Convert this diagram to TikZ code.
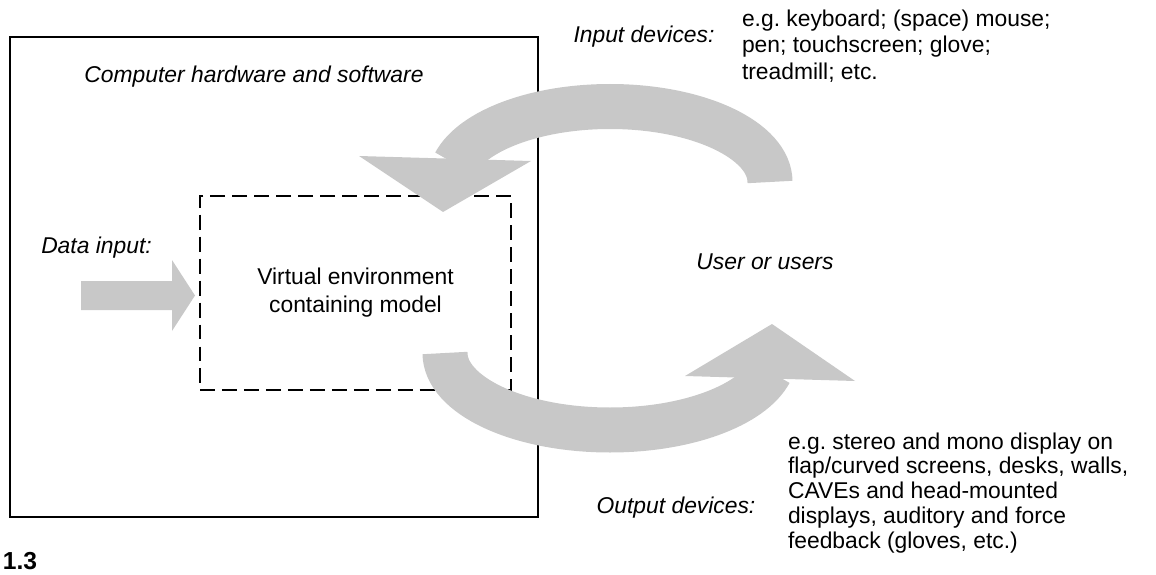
\documentclass[tikz,border=0pt]{standalone}
\usepackage{fontspec}
\setmainfont{Liberation Sans}
\usetikzlibrary{calc}
\definecolor{arrowgray}{RGB}{200,200,200}
\frenchspacing

\begin{document}
\begin{tikzpicture}[every node/.style={outer sep=0pt,inner sep=0pt,font=\fontsize{13}{14.2}\selectfont}]
\useasboundingbox (0,0) rectangle (23.12,11.48);

\tikzstyle{itlabel}=[font=\fontsize{13}{14.2}\selectfont\itshape]
\tikzstyle{devlist}=[anchor=west,align=left]
\tikzstyle{band}=[arrowgray,line width=0.9cm]
\tikzstyle{tip}=[fill=arrowgray,draw=none]

% boxes
\draw[line width=1.1pt] (0.2,1.14) rectangle (10.76,10.74);
\node (venv) [draw,dash pattern=on 8.5pt off 4pt,line width=1.1pt,minimum width=6.22cm,minimum height=3.88cm,align=center,font=\fontsize{13}{15.9}\selectfont] at (7.11,5.62) {Virtual environment\\containing model};
\node (hw) [itlabel] at (5.08,9.94) {Computer hardware and software};

% data input arrow
\node (datain) [itlabel] at (1.93,6.52) {Data input:};
\coordinate (dataStart) at (1.62,5.57);
\coordinate (dataEnd) at ($(venv.west)+(-0.1,-0.05)$);
\fill[arrowgray] ($(dataStart)+(0,0.29)$) -- ($(dataEnd)+(-0.46,0.29)$) -- ($(dataEnd)+(-0.46,0.71)$) -- (dataEnd)
    -- ($(dataEnd)+(-0.46,-0.71)$) -- ($(dataEnd)+(-0.46,-0.29)$) -- ($(dataStart)+(0,-0.29)$) -- cycle;

% input loop
\coordinate (inStart) at (15.4,7.84);
\coordinate (inTip) at (8.86,7.24);
\draw[band] (inStart) arc[start angle=0,end angle=166,x radius=3.2,y radius=1.51];
\fill[tip] (7.18,8.36) -- (10.62,8.26) -- (inTip) -- cycle;

% output loop
\coordinate (outStart) at (8.9,4.42);
\coordinate (outTip) at (15.44,5.0);
\draw[band] (outStart) arc[start angle=180,end angle=346,x radius=3.3,y radius=1.54];
\fill[tip] (13.7,3.96) -- (17.1,3.86) -- (outTip) -- cycle;

\node (user) [itlabel] at (15.3,6.24) {User or users};
\node (indev) [itlabel] at (12.88,10.74) {Input devices:};
\node (inlist) [devlist,font=\fontsize{13}{15.1}\selectfont] at (14.84,10.56) {e.g. keyboard; (space) mouse;\\pen; touchscreen; glove;\\treadmill; etc.};
\node (outdev) [itlabel] at (13.52,1.32) {Output devices:};
\node (outlist) [devlist] at (15.76,1.62) {e.g. stereo and mono display on\\flap/curved screens, desks, walls,\\CAVEs and head-mounted\\displays, auditory and force\\feedback (gloves, etc.)};

\node (fig) [font=\fontsize{14}{16}\selectfont\bfseries] at (0.4,0.26) {1.3};
\end{tikzpicture}
\end{document}
